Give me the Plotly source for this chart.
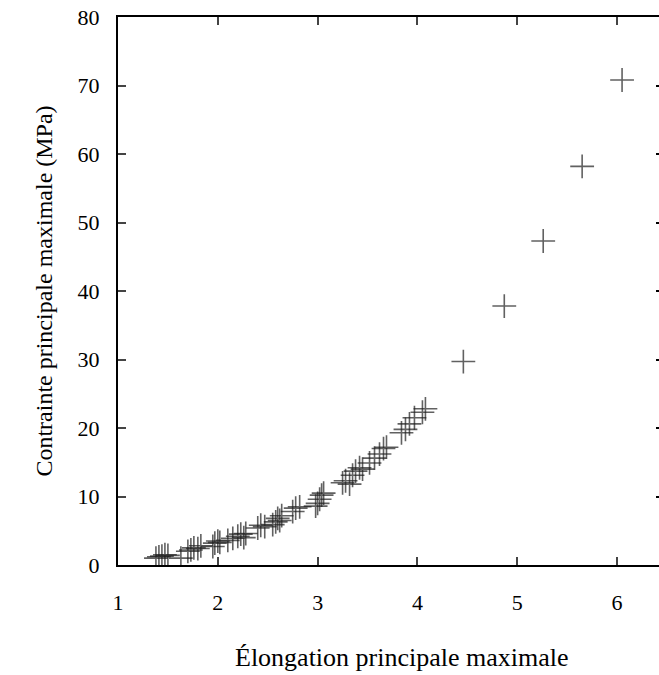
import plotly.graph_objects as go

# ==========================
# DATA
# ==========================

elongation = [
    1.38, 1.41, 1.44, 1.47, 1.50, 1.63, 1.70, 1.73, 1.76, 1.80,
    1.83, 1.95, 1.97, 2.00, 2.02, 2.10, 2.15, 2.20, 2.23, 2.26,
    2.28, 2.40, 2.43, 2.47, 2.55, 2.58, 2.60, 2.62, 2.64, 2.75,
    2.78, 2.82, 2.98, 3.00, 3.02, 3.04, 3.06, 3.25, 3.28, 3.32,
    3.35, 3.38, 3.42, 3.45, 3.52, 3.57, 3.62, 3.66, 3.69, 3.84,
    3.88, 3.92, 3.97, 4.05, 4.08,
    4.46, 4.87, 5.26, 5.65, 6.05,
]

contrainte = [
    1.0, 1.2, 1.3, 1.5, 1.4, 1.0, 2.0, 2.2, 2.5, 2.4,
    2.8, 2.7, 3.2, 3.5, 3.3, 3.6, 3.9, 4.2, 4.5, 4.0,
    4.6, 5.4, 5.8, 5.6, 5.9, 6.3, 6.8, 6.5, 7.2, 7.8,
    8.3, 8.5, 8.6, 9.0, 9.6, 10.2, 10.5, 12.0, 12.3, 11.8,
    13.1, 13.7, 14.2, 14.0, 14.9, 15.6, 16.2, 17.0, 17.2, 19.3,
    19.8, 20.6, 21.5, 22.3, 22.8,
    29.7, 37.8, 47.3, 58.2, 70.8,
]

x_ticks = [1, 2, 3, 4, 5, 6]
y_ticks = [0, 10, 20, 30, 40, 50, 60, 70, 80]

FONT = "Liberation Serif"


# ==========================
# FIGURE
# ==========================

fig = go.Figure()

fig.add_trace(
    go.Scatter(
        x=elongation,
        y=contrainte,
        mode="markers",
        marker=dict(
            symbol="cross-thin",
            size=17,
            line=dict(width=1.6, color="rgba(30,30,30,0.7)")
        ),
        showlegend=False
    )
)

# small mirror ticks on the (cropped) right side
fig.add_trace(
    go.Scatter(
        x=[None],
        y=[None],
        yaxis="y2",
        showlegend=False
    )
)

# x title sits off-centre because the original plot was cropped on the right
fig.add_annotation(
    text="Élongation principale maximale",
    xref="paper",
    yref="paper",
    x=0.525,
    y=-0.168,
    xanchor="center",
    yanchor="middle",
    showarrow=False,
    font=dict(family=FONT, size=26, color="black")
)

fig.update_layout(
    width=659,
    height=675,
    margin=dict(l=118, r=0, t=17, b=110),
    plot_bgcolor="white",
    paper_bgcolor="white",
    font=dict(family=FONT, size=22, color="black"),
    xaxis=dict(
        range=[1, 6.42],
        tickvals=x_ticks,
        ticks="inside",
        ticklen=8,
        tickwidth=2,
        showline=True,
        linewidth=2,
        linecolor="black",
        mirror="ticks",
        showgrid=False,
        zeroline=False,
        ticklabelstandoff=17
    ),
    yaxis=dict(
        range=[0, 80],
        tickvals=y_ticks,
        ticks="inside",
        ticklen=8,
        tickwidth=2,
        showline=True,
        linewidth=2,
        linecolor="black",
        showgrid=False,
        zeroline=False,
        ticklabelstandoff=12,
        title=dict(
            text="Contrainte principale maximale (MPa)",
            standoff=18,
            font=dict(size=24)
        )
    ),
    yaxis2=dict(
        range=[0, 80],
        overlaying="y",
        side="right",
        tickvals=y_ticks[1:-1],
        ticks="inside",
        ticklen=3,
        tickwidth=2,
        tickcolor="black",
        showticklabels=False,
        showline=False,
        showgrid=False,
        zeroline=False
    )
)

fig.write_html(
    "out.html",
    config={"displayModeBar": False},
    post_script="document.body.style.margin='0px';"
)
